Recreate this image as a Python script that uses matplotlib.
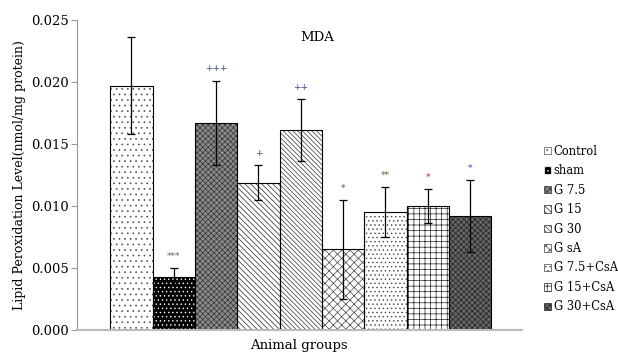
import matplotlib
matplotlib.use("Agg")
import matplotlib.pyplot as plt
from matplotlib.patches import Patch

plt.rcParams['font.family'] = ['DejaVu Serif', 'Liberation Serif']
plt.rcParams['hatch.linewidth'] = 0.5

groups = ["Control", "sham", "G 7.5", "G 15", "G 30", "G sA", "G 7.5+CsA", "G 15+CsA", "G 30+CsA"]
values = [0.0197, 0.0043, 0.0167, 0.0119, 0.0161, 0.0065, 0.0095, 0.0100, 0.0092]
errors = [0.0039, 0.0007, 0.0034, 0.0014, 0.0025, 0.0040, 0.0020, 0.0014, 0.0029]
marks = ["", "***", "+++", "+", "++", "*", "**", "*", "*"]
mark_colors = ["k", "#666677", "#3a4a8a", "#3a4a8a", "#3a4a8a", "#3a5aa0", "#7a5a3a", "#8a3a3a", "#3a5aa0"]
yticks = [0.000, 0.005, 0.010, 0.015, 0.020, 0.025]

faces = ["white", "black", "#8a8a8a", "white", "white", "white", "white", "white", "#666666"]
hatches = ["...", "....", "xxxxxx", "\\\\\\\\\\\\", "\\\\\\\\\\\\\\", "xxxx", "....", "+++", "xxxxxx"]
hatch_edges = ["#555555", "white", "#333333", "#222222", "#333333", "#444444", "#444444", "#222222", "#222222"]

fig = plt.figure(figsize=(6.18, 3.53), dpi=100)
ax = fig.add_axes([0.125, 0.065, 0.72, 0.878])

x = list(range(len(groups)))
bars = ax.bar(x, values, width=1.0, color=faces, edgecolor=hatch_edges, linewidth=0.6)
for b, h in zip(bars, hatches):
    b.set_hatch(h)
# outline
ax.bar(x, values, width=1.0, fill=False, edgecolor="black", linewidth=0.8)
ax.errorbar(x, values, yerr=errors, fmt="none", ecolor="black", elinewidth=0.9, capsize=3, capthick=0.9)

for xi, v, e, m, c in zip(x, values, errors, marks, mark_colors):
    if m:
        ax.text(xi, v + e + 0.0006, m, ha="center", va="bottom", fontsize=6.5, color=c)

ax.set_xlim(-1.28, 9.23)
ax.set_ylim(0, 0.025)
ax.set_yticks(yticks)
ax.set_yticklabels([f"{t:.3f}" for t in yticks], fontsize=9.5)
ax.set_xticks([])
for s in ["top", "right"]:
    ax.spines[s].set_visible(False)
ax.spines["left"].set_color("#999999")
ax.spines["bottom"].set_color("#bbbbbb")
ax.spines["bottom"].set_linewidth(1.5)
ax.tick_params(axis="y", color="#999999", length=4, pad=2)

ax.set_ylabel("Lipid Peroxidation Level(nmol/mg protein)", fontsize=9, labelpad=4)
ax.text(0.54, 0.945, "MDA", transform=ax.transAxes, ha="center", va="center", fontsize=9.5)
fig.text(0.483, 0.02, "Animal groups", ha="center", va="center", fontsize=9.5)

handles = [Patch(facecolor=f, edgecolor=he, hatch=h, linewidth=0.5) for f, h, he in zip(faces, hatches, hatch_edges)]
fig.legend(handles, groups, loc="upper left", bbox_to_anchor=(0.88, 0.59), frameon=False,
           fontsize=8.3, handlelength=0.6, handleheight=0.6, handletextpad=0.25, labelspacing=0.56,
           borderaxespad=0, borderpad=0)

fig.savefig("out.png", dpi=100)
